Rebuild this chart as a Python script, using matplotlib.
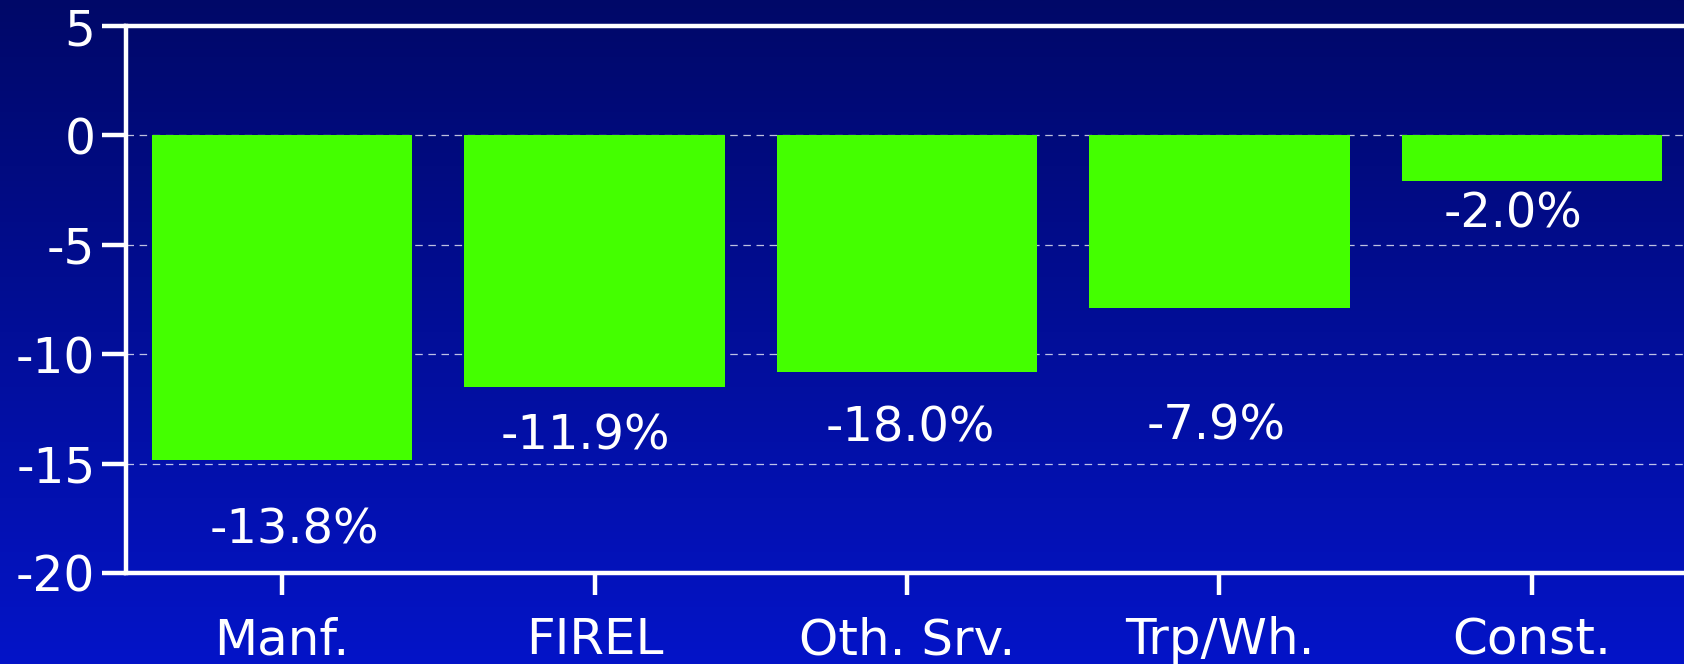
import numpy as np
import matplotlib
matplotlib.use("Agg")
import matplotlib.pyplot as plt
from matplotlib.colors import LinearSegmentedColormap

plt.rcParams["axes.unicode_minus"] = False

# data
categories = ["Manf.", "FIREL", "Oth. Srv.", "Trp/Wh.", "Const."]
values = [-14.85, -11.5, -10.8, -7.9, -2.1]
value_labels = ["-13.8%", "-11.9%", "-18.0%", "-7.9%", "-2.0%"]

# where the value labels sit (data coords), as in the original slide
label_x = [0.04, -0.03, 0.01, -0.01, -0.06]
label_y = [-18.05, -13.76, -13.37, -13.26, -3.6]

BAR_COLOR = "#44ff00"
TXT = "white"

fig = plt.figure(figsize=(16.84, 6.64), dpi=100)

# background gradient
bg = fig.add_axes([0, 0, 1, 1], zorder=-10)
grad = np.linspace(0, 1, 256).reshape(-1, 1)
cmap = LinearSegmentedColormap.from_list("bg", ["#000868", "#0414c8"])
bg.imshow(grad, aspect="auto", cmap=cmap, extent=[0, 1, 0, 1], origin="upper")
bg.axis("off")

ax = fig.add_axes([126 / 1684, 91 / 664, 1562 / 1684, 547 / 664])
ax.set_facecolor("none")

x = np.arange(len(categories))
ax.bar(x, values, width=0.833, color=BAR_COLOR, zorder=3)

for xi, dx, ly, lab in zip(x, label_x, label_y, value_labels):
    ax.text(xi + dx, ly, lab, ha="center", va="center", color=TXT,
            fontsize=34.5, zorder=4)

ax.set_xlim(-0.5, 4.5)
ax.set_ylim(-20, 5)
ax.set_yticks([5, 0, -5, -10, -15, -20])
ax.set_xticks(x)
ax.set_xticklabels(categories)

for y in [0, -5, -10, -15]:
    ax.axhline(y, color="white", lw=0.9, ls=(0, (6, 4.5)), alpha=0.75, zorder=1)

for side in ["left", "bottom", "top"]:
    ax.spines[side].set_color(TXT)
    ax.spines[side].set_linewidth(3.2)
ax.spines["right"].set_visible(False)

ax.tick_params(axis="y", colors=TXT, labelsize=35, length=17, width=3.2,
               direction="out", pad=5)
ax.tick_params(axis="x", colors=TXT, labelsize=36, length=16, width=3.2,
               direction="out", pad=15)

fig.savefig("out.png", dpi=100)
